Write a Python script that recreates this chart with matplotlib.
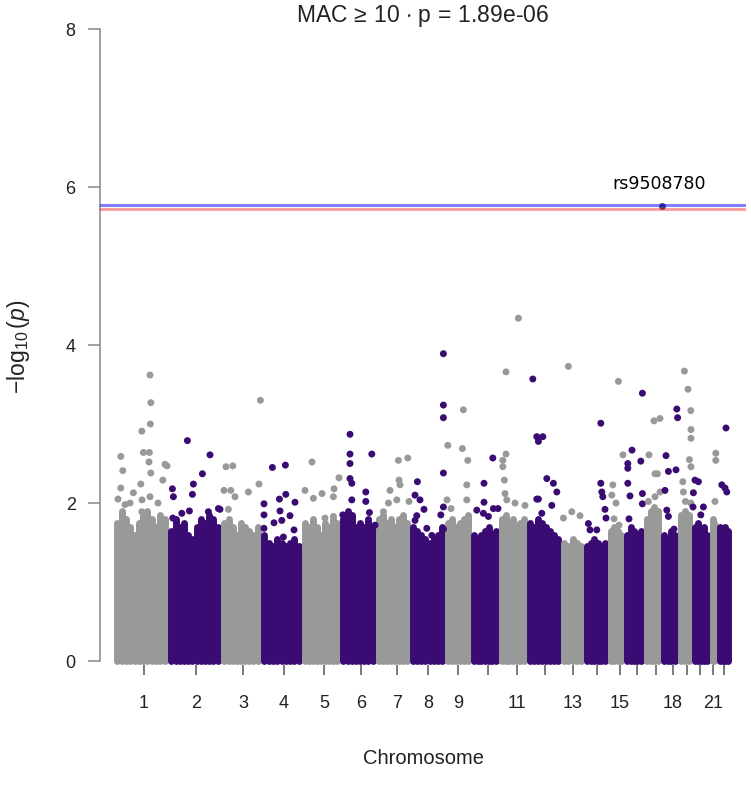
import numpy as np
import matplotlib
matplotlib.use("Agg")
import matplotlib.pyplot as plt

# ---------------- data ----------------
chrom_names = [str(i) for i in range(1, 23)]
# chromosome spans on the cumulative genome axis (Mb)
chrom_len = [270, 265, 200, 205, 190, 180, 170, 175, 130, 140, 140,
             170, 115, 120, 80, 100, 85, 85, 70, 90, 35, 70]
# tick (mean SNP) position of each chromosome on the cumulative axis
chrom_tick = [150, 410, 645, 850, 1050, 1235, 1415, 1570, 1720, 1870, 2015,
              2155, 2295, 2415, 2530, 2615, 2710, 2795, 2865, 2930, 2995, 3050]
tick_labels = ["1", "2", "3", "4", "5", "6", "7", "8", "9", "", "11",
               "", "13", "", "15", "", "", "18", "", "", "21", ""]

# upper envelope of the dense bulk of SNPs (-log10 p), along each chromosome
bulk_logp = [
    [1.75, 1.9, 1.8, 1.7, 1.6, 1.75, 1.85, 1.9, 1.8, 1.7, 1.85, 1.8],
    [1.65, 1.8, 1.7, 1.75, 1.6, 1.55, 1.7, 1.8, 1.75, 1.85, 1.8, 1.7],
    [1.75, 1.8, 1.7, 1.6, 1.75, 1.7, 1.65, 1.6, 1.7],
    [1.6, 1.5, 1.45, 1.55, 1.5, 1.45, 1.5, 1.55, 1.45],
    [1.75, 1.7, 1.8, 1.7, 1.6, 1.75, 1.7, 1.8, 1.75],
    [1.8, 1.9, 1.85, 1.7, 1.75, 1.7, 1.8, 1.7],
    [1.8, 1.85, 1.75, 1.8, 1.7, 1.8, 1.85, 1.75],
    [1.7, 1.65, 1.6, 1.55, 1.5, 1.55, 1.6, 1.7],
    [1.75, 1.8, 1.7, 1.75, 1.8, 1.85],
    [1.6, 1.55, 1.6, 1.65, 1.7, 1.6, 1.65],
    [1.8, 1.85, 1.75, 1.8, 1.7, 1.75, 1.8],
    [1.75, 1.7, 1.8, 1.75, 1.7, 1.65, 1.6, 1.55],
    [1.5, 1.45, 1.55, 1.5, 1.45],
    [1.45, 1.5, 1.55, 1.5, 1.45, 1.5],
    [1.65, 1.7, 1.65, 1.6],
    [1.6, 1.7, 1.65, 1.6, 1.65],
    [1.8, 1.9, 1.95, 1.9],
    [1.6, 1.55, 1.65, 1.6],
    [1.85, 1.9, 1.85],
    [1.7, 1.75, 1.65, 1.7, 1.6],
    [1.8, 1.75],
    [1.7, 1.65, 1.7, 1.65],
]

# individual SNPs standing out above the bulk
snp_chrom = ([1] * 23 + [2] * 13 + [3] * 9 + [4] * 14 + [5] * 9 + [6] * 12 +
             [7] * 9 + [8] * 15 + [9] * 8 + [10] * 8 + [11] * 10 + [12] * 11 +
             [13] * 4 + [14] * 9 + [15] * 7 + [16] * 10 + [17] * 8 + [18] * 9 +
             [19] * 11 + [20] * 6 + [21] * 3 + [22] * 4)
snp_pos = [
    180, 184, 182, 139, 147, 177, 34, 44, 175, 184, 255, 265, 134, 244, 34, 97, 140, 139, 180, 20, 55, 220, 80,
    367, 480, 442, 397, 392, 292, 297, 294, 339, 377, 472, 522, 530,
    732, 560, 594, 550, 584, 672, 572, 605, 725,
    792, 857, 859, 827, 905, 750, 830, 880, 750, 750, 800, 839, 900, 847,
    990, 955, 997, 1125, 1100, 1097, 1055, 1097, 1040,
    1180, 1180, 1180, 1289, 1180, 1189, 1259, 1259, 1189, 1277, 1144, 1305,
    1422, 1469, 1425, 1380, 1430, 1372, 1414, 1475, 1347,
    1517, 1505, 1530, 1550, 1514, 1505, 1564, 1589, 1647, 1647, 1647, 1647, 1634, 1647, 1647,
    1747, 1669, 1742, 1769, 1764, 1764, 1685, 1665,
    1894, 1850, 1850, 1814, 1897, 1920, 1847, 1872,
    2022, 1960, 1960, 1944, 1944, 1952, 1955, 2005, 1964, 2055,
    2094, 2114, 2144, 2122, 2114, 2164, 2197, 2214, 2122, 2189, 2139,
    2272, 2247, 2289, 2330,
    2434, 2434, 2439, 2444, 2455, 2460, 2372, 2414, 2380,
    2522, 2494, 2489, 2510, 2500, 2525, 2545,
    2642, 2590, 2569, 2569, 2634, 2569, 2580, 2642, 2642, 2575,
    2700, 2730, 2675, 2705, 2717, 2672, 2705, 2730,
    2814, 2818, 2760, 2772, 2810, 2755, 2764, 2772, 2800,
    2852, 2870, 2884, 2885, 2885, 2877, 2885, 2844, 2847, 2857, 2884,
    2905, 2922, 2897, 2895, 2947, 2934,
    3009, 3009, 3005,
    3060, 3039, 3055, 3064,
]
snp_logp = [
    3.62, 3.27, 3.00, 2.91, 2.64, 2.64, 2.59, 2.41, 2.52, 2.38, 2.49, 2.47, 2.24, 2.29, 2.19, 2.13, 2.04, 1.89, 2.08, 2.05, 1.98, 2.00, 2.00,
    2.79, 2.61, 2.37, 2.24, 2.11, 2.18, 2.08, 1.81, 1.87, 1.90, 1.89, 1.93, 1.92,
    3.30, 2.46, 2.47, 2.16, 2.16, 2.14, 1.92, 2.08, 2.24,
    2.45, 2.48, 2.11, 2.05, 2.01, 1.99, 1.90, 1.84, 1.85, 1.68, 1.75, 1.78, 1.66, 1.57,
    2.52, 2.16, 2.06, 2.32, 2.18, 2.08, 1.81, 1.83, 2.12,
    2.87, 2.62, 2.50, 2.62, 2.31, 2.25, 2.14, 2.02, 2.04, 1.88, 1.85, 1.72,
    2.54, 2.57, 2.29, 2.16, 2.23, 2.00, 2.04, 2.02, 1.89,
    2.27, 2.10, 2.04, 1.92, 1.84, 1.78, 1.68, 1.59, 3.89, 3.24, 3.08, 2.38, 1.85, 1.95, 1.67,
    3.18, 2.73, 2.69, 2.54, 2.23, 2.04, 1.93, 2.04,
    2.57, 2.25, 2.01, 1.91, 1.93, 1.93, 1.87, 1.83,
    4.34, 3.66, 2.62, 2.54, 2.46, 2.29, 2.12, 2.00, 2.04, 1.97,
    3.57, 2.84, 2.84, 2.78, 2.05, 2.31, 2.25, 2.14, 2.05, 1.97, 1.87,
    3.73, 1.81, 1.89, 1.84,
    3.01, 2.25, 2.14, 2.08, 1.92, 1.81, 1.74, 1.66, 1.66,
    3.54, 2.23, 2.10, 2.00, 1.80, 1.72, 2.61,
    3.39, 2.67, 2.50, 2.44, 2.53, 2.25, 2.09, 2.12, 1.99, 1.80,
    3.04, 3.07, 2.61, 2.37, 2.37, 2.02, 2.08, 2.14,
    3.19, 3.08, 2.60, 2.40, 2.42, 2.16, 1.91, 1.83, 1.67,
    3.67, 3.44, 3.17, 2.93, 2.82, 2.55, 2.46, 2.27, 2.14, 2.02, 2.00,
    2.29, 2.27, 2.13, 1.95, 1.95, 1.85,
    2.63, 2.54, 2.02,
    2.95, 2.23, 2.19, 2.14,
]

top_snp_name = "rs9508780"
top_snp_chrom = 18
top_snp_pos = 2740
top_snp_logp = 5.76

threshold_p = 1.89e-06
top_line_logp = 5.77

# ---------------- style ----------------
COL_ODD = "#999999"
COL_EVEN = "#3b0b74"
DOT_PT = 5.0

plt.rcParams["font.family"] = ["Liberation Sans", "DejaVu Sans"]
plt.rcParams["mathtext.fontset"] = "custom"
plt.rcParams["mathtext.rm"] = "Liberation Sans"
plt.rcParams["mathtext.it"] = "Liberation Sans:italic"

fig = plt.figure(figsize=(7.51, 7.98), dpi=100)
ax = fig.add_axes([100 / 751, 133 / 798, 646 / 751, 636 / 798])

def chrom_color(c):
    return COL_ODD if c % 2 == 1 else COL_EVEN

starts = np.concatenate([[0], np.cumsum(chrom_len)[:-1]])
ends = np.cumsum(chrom_len)

# dense bulk: columns of stacked points up to the envelope
for i, heights in enumerate(bulk_logp):
    n = len(heights)
    xs = np.linspace(starts[i] + 17, ends[i] - 17, n)
    lc = ax.vlines(xs, 0, heights, colors=chrom_color(i + 1),
                   linewidth=DOT_PT, zorder=2)
    lc.set_capstyle("round")

# individual SNPs
cols = [chrom_color(c) for c in snp_chrom]
ax.scatter(snp_pos, snp_logp, s=DOT_PT ** 2, c=cols, linewidths=0, zorder=3)
ax.scatter([top_snp_pos], [top_snp_logp], s=DOT_PT ** 2,
           c=["#4a4a66"], linewidths=0, zorder=3)

# significance lines
ax.axhline(top_line_logp, color="#0000ff", alpha=0.5, lw=2.2, zorder=4)
ax.axhline(-np.log10(threshold_p), color="#ff0000", alpha=0.4, lw=2.0, zorder=4)

ax.text(top_snp_pos - 15, top_snp_logp + 0.17, top_snp_name,
        ha="center", va="bottom", fontsize=12.5, family="DejaVu Sans")

ax.set_xlim(-70, 3160)
ax.set_ylim(-0.05, 8.0)

for side in ["top", "right", "bottom"]:
    ax.spines[side].set_visible(False)
ax.spines["left"].set_bounds(0, 8)
ax.spines["left"].set_color("#888888")
ax.spines["left"].set_linewidth(1.1)

ax.set_yticks([0, 2, 4, 6, 8])
ax.set_xticks(chrom_tick)
ax.set_xticklabels(tick_labels)
ax.tick_params(axis="y", length=8.5, width=1.1, color="#888888",
               labelsize=13, pad=9, labelcolor="#222222")
ax.tick_params(axis="x", length=7.5, width=1.1, color="#555555",
               labelsize=13, pad=14, labelcolor="#222222")

ax.set_title(r"MAC$\,\geq\,$10 $\cdot$ p$\,=\,$1.89e-06", fontsize=16.5,
             pad=5, color="#222222")
ax.set_xlabel("Chromosome", fontsize=14.5, labelpad=27, color="#222222")
ax.set_ylabel(r"$-\log_{10}(p)$", fontsize=16.5, labelpad=24, color="#222222")

fig.savefig("out.png", dpi=100)
